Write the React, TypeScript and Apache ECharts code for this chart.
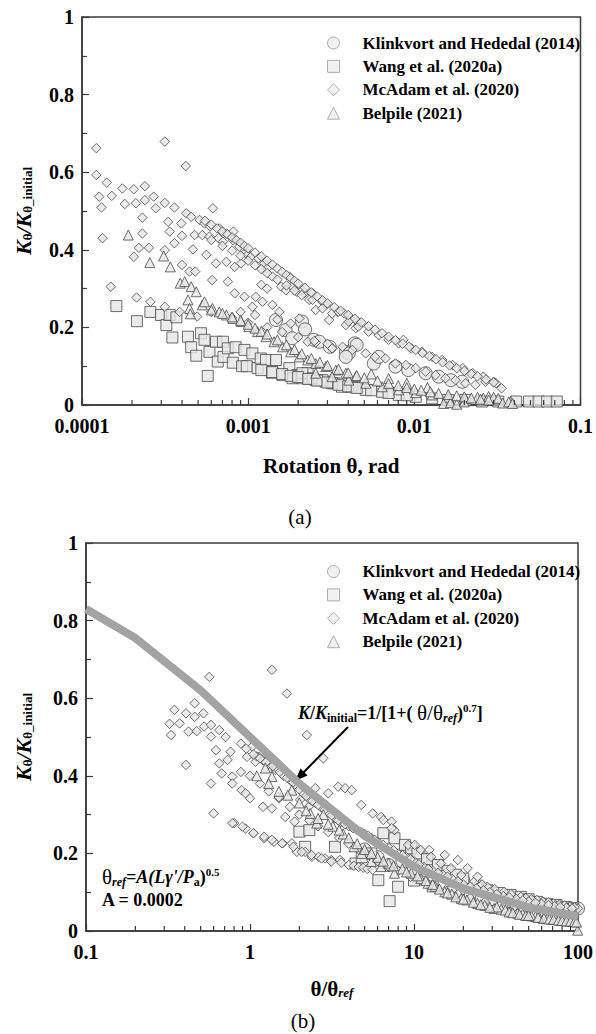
import React, { useEffect, useRef } from 'react';
import * as echarts from 'echarts';

const FONT = 'Liberation Serif, Times New Roman, serif';

const seriesNames = ['Klinkvort and Hededal (2014)', 'Wang et al. (2020a)', 'McAdam et al. (2020)', 'Belpile (2021)'];
const seriesSymbols = ['circle', 'rect', 'diamond', 'triangle'];

// ---------- (a) rotation vs K/Kinitial ----------
const klinkA = [
  [0.00147, 0.219], [0.00168, 0.193], [0.00184, 0.172], [0.00211, 0.215], [0.00248, 0.168], [0.00268, 0.163],
  [0.00388, 0.137], [0.00403, 0.133], [0.00438, 0.159], [0.0045, 0.155], [0.00387, 0.124], [0.0057, 0.107],
  [0.0061, 0.124], [0.0077, 0.099], [0.0092, 0.09], [0.0117, 0.082], [0.014, 0.073], [0.0166, 0.064], [0.0194, 0.06],
  [0.0022, 0.195], [0.0031, 0.15],
];
const wangA = [
  [0.000161, 0.255], [0.000214, 0.216], [0.000258, 0.24], [0.000299, 0.232], [0.000322, 0.206], [0.000337, 0.232],
  [0.00037, 0.226], [0.00035, 0.174], [0.000434, 0.176], [0.000454, 0.149], [0.000487, 0.127], [0.00052, 0.185],
  [0.000546, 0.168], [0.000571, 0.075], [0.000585, 0.137], [0.00064, 0.163], [0.000656, 0.112], [0.000705, 0.163],
  [0.00071, 0.124], [0.000755, 0.146], [0.000808, 0.109], [0.00084, 0.149], [0.00092, 0.1], [0.00095, 0.142],
  [0.00098, 0.1], [0.00106, 0.133], [0.00114, 0.095], [0.00119, 0.12], [0.00128, 0.116], [0.00139, 0.083],
  [0.00147, 0.116], [0.00161, 0.077], [0.00177, 0.095], [0.00185, 0.069], [0.00198, 0.077], [0.00212, 0.069],
  [0.00228, 0.082], [0.00255, 0.064], [0.00293, 0.06], [0.0033, 0.056], [0.00367, 0.047], [0.0042, 0.047],
  [0.00212, 0.082], [0.00244, 0.069], [0.0028, 0.064], [0.0032, 0.056], [0.0051, 0.039], [0.0064, 0.034],
  [0.00805, 0.026], [0.0102, 0.021], [0.0128, 0.017], [0.016, 0.013], [0.0203, 0.013], [0.0256, 0.009],
  [0.032, 0.009], [0.041, 0.009], [0.049, 0.009], [0.056, 0.009], [0.063, 0.009], [0.072, 0.009],
  [0.0012, 0.09], [0.0014, 0.085], [0.0016, 0.08], [0.0018, 0.075], [0.002, 0.072], [0.0023, 0.067],
  [0.0026, 0.063], [0.003, 0.058], [0.0035, 0.052], [0.004, 0.048], [0.0045, 0.044], [0.0055, 0.038],
  [0.007, 0.031], [0.009, 0.025],
];
const mcadamA = [
  [0.000122, 0.662], [0.000122, 0.593], [0.000127, 0.537], [0.000131, 0.509], [0.000133, 0.43], [0.000141, 0.573],
  [0.000151, 0.539], [0.000149, 0.305], [0.000175, 0.558], [0.000181, 0.518], [0.000205, 0.556], [0.000205, 0.382],
  [0.000211, 0.52], [0.000213, 0.277], [0.00022, 0.405], [0.000231, 0.483], [0.000231, 0.442], [0.000239, 0.564],
  [0.000239, 0.528], [0.000253, 0.405], [0.000258, 0.266], [0.00027, 0.537], [0.000278, 0.507], [0.000315, 0.679],
  [0.000315, 0.521], [0.000315, 0.399], [0.000315, 0.253], [0.00033, 0.472], [0.000337, 0.447], [0.00036, 0.509],
  [0.00036, 0.417], [0.000387, 0.24], [0.000396, 0.468], [0.0004, 0.361], [0.0004, 0.436], [0.000421, 0.616],
  [0.000424, 0.494], [0.000444, 0.344], [0.000454, 0.485], [0.000465, 0.401], [0.000476, 0.438], [0.00048, 0.344],
  [0.000493, 0.228], [0.00051, 0.477], [0.00053, 0.438], [0.000546, 0.468], [0.00056, 0.387], [0.000585, 0.434],
  [0.00059, 0.46], [0.000607, 0.322], [0.000613, 0.507], [0.00064, 0.365], [0.000663, 0.43], [0.00067, 0.455],
  [0.000705, 0.421], [0.000739, 0.369], [0.000739, 0.442], [0.000755, 0.318], [0.00081, 0.425], [0.000815, 0.447],
  [0.00083, 0.356], [0.00083, 0.288], [0.000885, 0.408], [0.000906, 0.365], [0.00095, 0.279], [0.000974, 0.395],
  [0.00099, 0.387], [0.00104, 0.382], [0.00106, 0.253], [0.00111, 0.279], [0.00115, 0.378], [0.00122, 0.266],
  [0.00125, 0.365], [0.0013, 0.352], [0.0014, 0.331], [0.0014, 0.258], [0.00154, 0.24], [0.00158, 0.305],
  [0.00169, 0.296], [0.00177, 0.331], [0.00185, 0.305], [0.00196, 0.292], [0.00203, 0.223], [0.00217, 0.288],
  [0.00233, 0.271], [0.00244, 0.288], [0.00255, 0.245], [0.0028, 0.266], [0.00293, 0.258], [0.00307, 0.219],
  [0.00321, 0.146], [0.00345, 0.24], [0.00378, 0.236], [0.00387, 0.206], [0.00413, 0.223], [0.00424, 0.142],
  [0.00444, 0.198], [0.00455, 0.215], [0.00228, 0.163], [0.00255, 0.161], [0.0012, 0.31], [0.0013, 0.3],
  [0.00212, 0.296], [0.00244, 0.271], [0.0028, 0.249], [0.0032, 0.236], [0.0035, 0.24], [0.00403, 0.215],
  [0.0046, 0.202], [0.0053, 0.189], [0.0061, 0.18], [0.007, 0.168], [0.00805, 0.159], [0.0086, 0.168],
  [0.0096, 0.146], [0.0111, 0.137], [0.0128, 0.124], [0.0147, 0.116], [0.017, 0.103], [0.0196, 0.095],
  [0.0225, 0.082], [0.026, 0.073], [0.03, 0.06], [0.0335, 0.043],
  [0.0032, 0.146], [0.0037, 0.15], [0.0051, 0.133], [0.0058, 0.124], [0.0067, 0.12], [0.0077, 0.107],
  [0.0089, 0.103], [0.0102, 0.095], [0.0117, 0.086], [0.0134, 0.077], [0.0154, 0.069], [0.0177, 0.064],
  [0.0203, 0.056], [0.0233, 0.052], [0.0268, 0.06], [0.031, 0.056],
  [0.0006, 0.24], [0.0008, 0.225], [0.001, 0.212], [0.0013, 0.2], [0.0016, 0.188], [0.002, 0.175],
  [0.0025, 0.165], [0.003, 0.158], [0.0009, 0.24], [0.0011, 0.232], [0.0015, 0.22], [0.0018, 0.21],
  [0.00055, 0.475], [0.0006, 0.465], [0.00065, 0.455], [0.0007, 0.447], [0.00075, 0.44], [0.0008, 0.432],
  [0.00085, 0.425], [0.0009, 0.418], [0.00095, 0.41], [0.001, 0.404], [0.0011, 0.393], [0.0012, 0.383],
  [0.0013, 0.372], [0.0014, 0.362], [0.0015, 0.352], [0.0016, 0.343], [0.0017, 0.335], [0.0018, 0.327],
  [0.0019, 0.32], [0.002, 0.313], [0.0022, 0.302], [0.0024, 0.29], [0.0026, 0.28], [0.0028, 0.27], [0.003, 0.262],
  [0.0033, 0.252], [0.0036, 0.243], [0.004, 0.232], [0.0044, 0.222], [0.0048, 0.213], [0.0053, 0.203],
  [0.0058, 0.194], [0.0064, 0.185], [0.007, 0.176], [0.0077, 0.167], [0.0085, 0.158], [0.0093, 0.15],
  [0.0102, 0.142], [0.0112, 0.134], [0.0123, 0.126], [0.0135, 0.118], [0.0148, 0.11], [0.0163, 0.102],
  [0.018, 0.095], [0.02, 0.088], [0.022, 0.08], [0.024, 0.074], [0.027, 0.066], [0.03, 0.058],
  [0.0006, 0.425], [0.0007, 0.41], [0.0008, 0.398], [0.0009, 0.385], [0.001, 0.372], [0.0011, 0.36],
  [0.0012, 0.35], [0.0013, 0.34], [0.0015, 0.323], [0.0017, 0.308], [0.0019, 0.295], [0.0021, 0.283],
];
const belpileA = [
  [0.00019, 0.438], [0.000256, 0.367], [0.00031, 0.384], [0.00034, 0.356], [0.00039, 0.314], [0.000415, 0.318],
  [0.000434, 0.271], [0.000444, 0.249], [0.000449, 0.235], [0.000454, 0.305], [0.000487, 0.292], [0.00053, 0.258],
  [0.000546, 0.266], [0.00061, 0.249], [0.00067, 0.24], [0.00074, 0.232], [0.00081, 0.223], [0.00091, 0.215],
  [0.00101, 0.202], [0.00114, 0.189], [0.00128, 0.176], [0.00143, 0.163], [0.00161, 0.15], [0.0018, 0.137],
  [0.00203, 0.124], [0.00228, 0.116], [0.00255, 0.107], [0.00293, 0.099], [0.00337, 0.09], [0.00387, 0.082],
  [0.00444, 0.073], [0.00255, 0.082], [0.0032, 0.073], [0.00403, 0.064], [0.0051, 0.056], [0.0064, 0.047],
  [0.00805, 0.039], [0.0102, 0.032], [0.0128, 0.026], [0.016, 0.02], [0.0203, 0.017], [0.0256, 0.013],
  [0.032, 0.013], [0.038, 0.009], [0.015, 0.004], [0.0165, 0.006], [0.018, 0.002], [0.02, 0.008],
  [0.024, 0.02], [0.026, 0.018], [0.028, 0.022], [0.03, 0.02], [0.032, 0.017], [0.034, 0.005],
  [0.037, 0.008], [0.039, 0.004], [0.0055, 0.08], [0.007, 0.068], [0.009, 0.056], [0.012, 0.045],
  [0.0006, 0.245], [0.0007, 0.236], [0.0008, 0.227], [0.0009, 0.218], [0.001, 0.208], [0.0011, 0.198],
  [0.0012, 0.19], [0.0013, 0.183], [0.0015, 0.168], [0.0017, 0.155], [0.0019, 0.143], [0.0021, 0.132],
  [0.0024, 0.12], [0.0027, 0.11], [0.003, 0.102], [0.0035, 0.092], [0.004, 0.083], [0.0045, 0.076],
  [0.005, 0.07], [0.006, 0.062], [0.007, 0.055], [0.008, 0.05], [0.009, 0.045], [0.01, 0.041], [0.011, 0.038],
  [0.0125, 0.034], [0.014, 0.03], [0.016, 0.027], [0.018, 0.024], [0.02, 0.021], [0.022, 0.018], [0.025, 0.015],
  [0.028, 0.013],
];

// ---------- (b) normalised rotation ----------
const klinkB = [
  [5.0, 0.21], [6.0, 0.19], [7.0, 0.17], [8.5, 0.18], [10, 0.16], [12, 0.155], [14.1, 0.157], [17, 0.14],
  [20, 0.13], [25, 0.115], [30, 0.1], [40, 0.085], [50, 0.075], [60, 0.07], [75, 0.062], [90, 0.058],
  [100, 0.058], [9, 0.2], [11, 0.19], [13, 0.17],
];
const wangB = [
  [2.0, 0.256], [2.17, 0.217], [2.3, 0.26], [3.3, 0.217], [4.4, 0.174], [4.8, 0.19], [5.5, 0.2], [6.06, 0.131],
  [6.5, 0.252], [7.1, 0.077], [7.6, 0.239], [8.0, 0.114], [8.8, 0.222], [9.6, 0.213], [10.5, 0.2], [12, 0.185],
  [14, 0.17], [16, 0.155], [18, 0.145], [20, 0.135], [24.4, 0.11], [28, 0.105], [33, 0.098], [38.8, 0.093],
  [44.8, 0.088], [50, 0.082], [56.2, 0.075], [65, 0.07], [74, 0.067], [84, 0.062], [93.5, 0.058],
  [10, 0.13], [13, 0.115], [17, 0.1], [22, 0.09], [30, 0.08], [40, 0.07], [55, 0.065], [70, 0.06], [90, 0.055],
];
const mcadamB = [
  [0.565, 0.655], [1.36, 0.673], [1.68, 0.612], [2.22, 0.505], [2.8, 0.445],
  [0.346, 0.57], [0.323, 0.534], [0.33, 0.505], [0.372, 0.535], [0.407, 0.561], [0.422, 0.514], [0.46, 0.587],
  [0.46, 0.552], [0.473, 0.515], [0.52, 0.561], [0.525, 0.527], [0.578, 0.531], [0.578, 0.501], [0.62, 0.466],
  [0.65, 0.518], [0.65, 0.432], [0.407, 0.428], [0.578, 0.38], [0.6, 0.303], [0.672, 0.406], [0.71, 0.5],
  [0.73, 0.441], [0.762, 0.462], [0.78, 0.398], [0.78, 0.38], [0.8, 0.278], [0.88, 0.483], [0.88, 0.41],
  [0.89, 0.363], [0.94, 0.355], [0.94, 0.264], [0.96, 0.449], [1.0, 0.342], [1.03, 0.475], [1.05, 0.252],
  [1.08, 0.436], [1.13, 0.449], [1.2, 0.32], [1.22, 0.239], [1.24, 0.436], [1.33, 0.441], [1.36, 0.316],
  [1.4, 0.23], [1.43, 0.415], [1.5, 0.342], [1.53, 0.423], [1.58, 0.226], [1.64, 0.294], [1.72, 0.393],
  [1.8, 0.226], [1.87, 0.282], [1.93, 0.204], [2.02, 0.338], [2.17, 0.204], [2.28, 0.32], [2.38, 0.191],
  [2.5, 0.368], [2.62, 0.191], [2.87, 0.187], [3.0, 0.355], [3.13, 0.183], [3.45, 0.372], [3.54, 0.183],
  [3.8, 0.368], [4.0, 0.17], [4.17, 0.363], [4.77, 0.325], [5.6, 0.303], [6.3, 0.294], [7.3, 0.282], [7.6, 0.26],
  [0.78, 0.278], [0.9, 0.269], [1.05, 0.252], [1.22, 0.243], [1.36, 0.235], [1.57, 0.226], [1.84, 0.217],
  [2.07, 0.204], [2.37, 0.196], [2.73, 0.187], [3.13, 0.179], [3.6, 0.176],
  [6.5, 0.286], [7.3, 0.265], [9.2, 0.222], [10.1, 0.222], [11, 0.209], [12.4, 0.209], [12.7, 0.191], [14.6, 0.174],
  [15.4, 0.196], [16.8, 0.162], [18.5, 0.183], [19.4, 0.144], [21.2, 0.162], [23.3, 0.127], [24.4, 0.14],
  [28, 0.114], [35.5, 0.101], [44.8, 0.088], [56.2, 0.08], [71, 0.071], [89.6, 0.063], [100, 0.058],
  [26, 0.12], [31, 0.108], [39, 0.095], [48, 0.085], [52, 0.082], [61, 0.076], [66, 0.074], [77, 0.068],
  [83, 0.066], [95, 0.061],
  [0.95, 0.47], [1.1, 0.45], [1.2, 0.44], [1.3, 0.43], [1.45, 0.42], [1.6, 0.4], [1.75, 0.39], [1.9, 0.375],
  [2.1, 0.355], [2.3, 0.34], [2.5, 0.33], [2.7, 0.32], [3.0, 0.305], [3.3, 0.29], [3.6, 0.28], [4.0, 0.27],
  [4.5, 0.26], [5.0, 0.25], [5.5, 0.24], [6.0, 0.23], [7.0, 0.215], [8.0, 0.2], [9.0, 0.19], [10, 0.18],
  [11.5, 0.165], [13, 0.155], [15, 0.145], [17, 0.135], [20, 0.12], [24, 0.11], [29, 0.1], [35, 0.09],
  [42, 0.083], [50, 0.076], [60, 0.07], [72, 0.064], [85, 0.06],
  [1.05, 0.455], [1.15, 0.445], [1.25, 0.435], [1.38, 0.425], [1.52, 0.41], [1.68, 0.395], [1.83, 0.383],
  [2.0, 0.365], [2.2, 0.348], [2.4, 0.335], [2.6, 0.325], [2.85, 0.312], [3.15, 0.298], [3.45, 0.285],
  [3.8, 0.275], [4.25, 0.265], [4.75, 0.255], [5.25, 0.245], [5.75, 0.235], [6.5, 0.222], [7.5, 0.208],
  [8.5, 0.195], [9.5, 0.185], [10.7, 0.172], [12.2, 0.16], [14, 0.15], [16, 0.14], [18.5, 0.128], [22, 0.115],
  [26.5, 0.105], [32, 0.095], [38, 0.087], [46, 0.079], [55, 0.073], [66, 0.067], [78, 0.062], [92, 0.058],
  [1.0, 0.4], [1.15, 0.38], [1.3, 0.36], [1.5, 0.345], [1.75, 0.32], [2.0, 0.3], [2.3, 0.285], [2.6, 0.27],
  [3.0, 0.255], [3.5, 0.24], [4.0, 0.225], [4.6, 0.21], [5.3, 0.195], [6.0, 0.18], [7.0, 0.165], [8.0, 0.155],
  [9.5, 0.14], [11, 0.13], [13, 0.118], [15.5, 0.105], [18.5, 0.095], [22, 0.085], [27, 0.075], [33, 0.066],
  [40, 0.058], [50, 0.05], [62, 0.044], [78, 0.04], [95, 0.036],
  [4.3, 0.168], [4.6, 0.165], [4.9, 0.163], [5.2, 0.16], [5.6, 0.158],
];
const belpileB = [
  [1.24, 0.42], [1.36, 0.398], [1.8, 0.363], [2.33, 0.303], [2.55, 0.278], [4.3, 0.217], [4.8, 0.2], [5.5, 0.179],
  [6.3, 0.166], [7.6, 0.149], [9.6, 0.149], [12.2, 0.123], [15.4, 0.101], [19.4, 0.084], [24.4, 0.071],
  [30.8, 0.058], [38.8, 0.05], [49, 0.041], [61.7, 0.033], [77.8, 0.028], [96.4, 0.024], [99.5, 0.002],
  [2.0, 0.33], [2.8, 0.3], [3.2, 0.27], [3.7, 0.25], [5, 0.21], [6, 0.19], [7, 0.175], [8.5, 0.16], [11, 0.135],
  [13.5, 0.115], [17, 0.095], [21, 0.08], [27, 0.066], [34, 0.056], [43, 0.046], [55, 0.037], [69, 0.031],
  [87, 0.026], [32, 0.062], [36, 0.054], [46, 0.044], [52, 0.039], [58, 0.036], [65, 0.032], [73, 0.03],
  [82, 0.027], [92, 0.025],
  [10.5, 0.142], [11.8, 0.13], [13, 0.12], [14.3, 0.108], [16, 0.098], [18, 0.088], [20, 0.082], [23, 0.074],
  [25.5, 0.068], [29, 0.061], [38, 0.049], [40, 0.047], [44, 0.043], [48, 0.04], [50, 0.04], [57, 0.035],
  [62, 0.033], [67, 0.031], [71, 0.03], [76, 0.028], [80, 0.027], [85, 0.026], [90, 0.025], [95, 0.024], [98, 0.023],
  [1.1, 0.4], [1.3, 0.38], [1.5, 0.36], [1.7, 0.35], [2.2, 0.31], [2.6, 0.29], [3.0, 0.275], [3.5, 0.26],
  [4.0, 0.24], [4.5, 0.225], [5.5, 0.2], [6.5, 0.18], [7.5, 0.168], [9, 0.152],
];
const fitX = [0.1, 0.2, 0.5, 1, 2, 5, 10, 20, 50, 100];
const fitY = [0.83, 0.755, 0.62, 0.5, 0.38, 0.245, 0.166, 0.109, 0.061, 0.038];

const xLabelsA = ['0.0001', '0.001', '0.01', '0.1'];
const xMinorA = [2e-4, 3e-4, 4e-4, 5e-4, 6e-4, 7e-4, 8e-4, 9e-4, 2e-3, 3e-3, 4e-3, 5e-3, 6e-3, 7e-3, 8e-3, 9e-3,
  0.02, 0.03, 0.04, 0.05, 0.06, 0.07, 0.08, 0.09];
const xLabelsB = ['0.1', '1', '10', '100'];
const xMinorB = [0.2, 0.3, 0.4, 0.5, 0.6, 0.7, 0.8, 0.9, 2, 3, 4, 5, 6, 7, 8, 9, 20, 30, 40, 50, 60, 70, 80, 90];

const AXIS = '#3a3a3a';
const markStyle = { color: '#e6e6e6', borderColor: '#4a4a4a', borderWidth: 1 };
const symSizes = [13, 11, 9.5, 10];

const labelFmt = (labels: string[]) => (v: number) => {
  const i = Math.round(Math.log10(v));
  const base = Math.round(Math.log10(Number(labels[0])));
  return labels[i - base] ?? '';
};

const yNameRich = {
  k: { fontFamily: FONT, fontSize: 22, fontWeight: 'bold', fontStyle: 'italic', color: '#000', lineHeight: 22, verticalAlign: 'top' },
  s: { fontFamily: FONT, fontSize: 13, fontWeight: 'bold', color: '#000', lineHeight: 8, verticalAlign: 'bottom' },
};

function makeX(idx: number, min: number, max: number, labels: string[], name: any, nameGap: number, rich?: any) {
  return {
    type: 'log', logBase: 10, gridIndex: idx, min, max,
    axisLine: { show: true, onZero: false, lineStyle: { color: AXIS, width: 1.5 } },
    axisTick: { show: true, inside: true, length: 7, lineStyle: { color: AXIS, width: 1.2 } },
    axisLabel: { formatter: labelFmt(labels), fontFamily: FONT, fontSize: 20, fontWeight: 'bold', color: '#000', margin: 13, lineHeight: 16 },
    splitLine: { show: false },
    name, nameLocation: 'middle', nameGap,
    nameTextStyle: { fontFamily: FONT, fontSize: 21, fontWeight: 'bold', color: '#000', rich },
  };
}
function makeY(idx: number) {
  return {
    type: 'value', gridIndex: idx, min: 0, max: 1, interval: 0.2,
    axisLine: { show: true, lineStyle: { color: AXIS, width: 1.5 } },
    axisTick: { show: true, inside: true, length: 7, lineStyle: { color: AXIS, width: 1.2 } },
    minorTick: { show: true, splitNumber: 2, length: 5, lineStyle: { color: AXIS, width: 1.2 } },
    axisLabel: { fontFamily: FONT, fontSize: 20, fontWeight: 'bold', color: '#000', margin: 8, lineHeight: 16 },
    splitLine: { show: false },
    name: '{k|K}{s|θ}{k|/K}{s|θ_initial}', nameLocation: 'middle', nameRotate: 90,
    nameGap: idx === 0 ? 48 : 52,
    nameTextStyle: { rich: yNameRich },
  };
}

function minorTickSeries(idx: number, vals: number[]) {
  return {
    type: 'custom', xAxisIndex: idx, yAxisIndex: idx, silent: true, z: 5, clip: false,
    data: vals.map((v) => [v, 0]),
    renderItem: (params: any, api: any) => {
      const p = api.coord([api.value(0), api.value(1)]);
      return { type: 'line', shape: { x1: p[0], y1: p[1], x2: p[0], y2: p[1] - 5 }, style: { stroke: AXIS, lineWidth: 1.2 } };
    },
  };
}

function scatterSet(idx: number, sets: number[][][]) {
  return sets.map((d, i) => ({
    type: 'scatter', name: seriesNames[i], xAxisIndex: idx, yAxisIndex: idx,
    symbol: seriesSymbols[i], symbolSize: symSizes[i], data: d, itemStyle: markStyle, z: 2,
    emphasis: { disabled: true },
  }));
}

function legendCfg(top: number) {
  return {
    orient: 'vertical', left: 327, top, padding: 0, itemGap: 6.4,
    itemWidth: 12, itemHeight: 12, selectedMode: false,
    data: seriesNames,
    itemStyle: { color: '#eeeeee', borderColor: '#9a9a9a', borderWidth: 1 },
    textStyle: { fontFamily: FONT, fontSize: 17, fontWeight: 'bold', color: '#000', lineHeight: 17, padding: [0, 0, 0, 18] },
  };
}

export default function App() {
  const ref = useRef<HTMLDivElement>(null);
  useEffect(() => {
    if (!ref.current) return;
    const chart = echarts.init(ref.current, undefined, { renderer: 'svg' });
    const t = (s: any) => ({ fontFamily: FONT, fill: '#000', ...s });
    const annRich = {
      n: { fontFamily: FONT, fontSize: 21, lineHeight: 22, verticalAlign: 'middle' },
      s: { fontFamily: FONT, fontSize: 12, fontWeight: 'bold', fontStyle: 'italic', lineHeight: 6, verticalAlign: 'bottom' },
      bi: { fontFamily: FONT, fontSize: 18, fontWeight: 'bold', fontStyle: 'italic', lineHeight: 22, verticalAlign: 'middle' },
      sb: { fontFamily: FONT, fontSize: 12, fontWeight: 'bold', lineHeight: 6, verticalAlign: 'bottom' },
      b: { fontFamily: FONT, fontSize: 18, fontWeight: 'bold', lineHeight: 22, verticalAlign: 'middle' },
      sup: { fontFamily: FONT, fontSize: 11, fontWeight: 'bold', lineHeight: 6, verticalAlign: 'top' },
    };
    chart.setOption({
      animation: false,
      backgroundColor: '#fff',
      textStyle: { fontFamily: FONT },
      grid: [
        { left: 82, top: 17, width: 500, height: 388, show: true, borderColor: AXIS, borderWidth: 1.5, backgroundColor: 'transparent' },
        { left: 86, top: 543, width: 495, height: 388, show: true, borderColor: AXIS, borderWidth: 1.5, backgroundColor: 'transparent' },
      ],
      legend: [legendCfg(34.5), legendCfg(563)],
      xAxis: [
        makeX(0, 0.0001, 0.1, xLabelsA, 'Rotation θ, rad', 50),
        makeX(1, 0.1, 100, xLabelsB, '{n|θ/θ}{s|ref}', 47, {
          n: { fontFamily: FONT, fontSize: 21, color: '#000', lineHeight: 21, verticalAlign: 'top' },
          s: { fontFamily: FONT, fontSize: 13, fontWeight: 'bold', fontStyle: 'italic', color: '#000', lineHeight: 8, verticalAlign: 'bottom' },
        }),
      ],
      yAxis: [makeY(0), makeY(1)],
      series: [
        ...scatterSet(0, [klinkA, wangA, mcadamA, belpileA]),
        ...scatterSet(1, [klinkB, wangB, mcadamB, belpileB]),
        {
          type: 'line', xAxisIndex: 1, yAxisIndex: 1, data: fitX.map((x, i) => [x, fitY[i]]),
          symbol: 'none', lineStyle: { color: '#a3a3a3', width: 8 }, z: 4, silent: true,
        },
        minorTickSeries(0, xMinorA),
        minorTickSeries(1, xMinorB),
      ],
      graphic: [
        { type: 'text', x: 300, y: 517, style: t({ text: '(a)', fontSize: 21, align: 'center', verticalAlign: 'middle' }) },
        { type: 'text', x: 303, y: 1021, style: t({ text: '(b)', fontSize: 21, align: 'center', verticalAlign: 'middle' }) },
        {
          type: 'text', x: 102, y: 877,
          style: t({ text: '{n|θ}{s|ref}{bi|=A(Lγ\'/P}{sb|a}{b|)}{sup|0.5}', verticalAlign: 'middle', rich: annRich }),
        },
        { type: 'text', x: 102, y: 900, style: t({ text: 'A = 0.0002', fontSize: 18, fontWeight: 'bold', verticalAlign: 'middle' }) },
        {
          type: 'text', x: 298, y: 713,
          style: t({
            text: '{bi|K}{b|/}{bi|K}{sb|initial}{b|=1/[1+( }{n|θ/θ}{s|ref}{b|)}{sup|0.7}{b|]}', verticalAlign: 'middle', rich: annRich,
          }),
        },
        { type: 'line', shape: { x1: 348, y1: 727, x2: 302, y2: 774 }, style: { stroke: '#000', lineWidth: 2 } },
        { type: 'polygon', shape: { points: [[295, 781], [307.5, 775.5], [300.5, 768.5]] }, style: { fill: '#000' } },
      ],
    });
    return () => chart.dispose();
  }, []);
  return <div ref={ref} style={{ position: 'absolute', left: 0, top: 0, width: 596, height: 1034 }} />;
}
